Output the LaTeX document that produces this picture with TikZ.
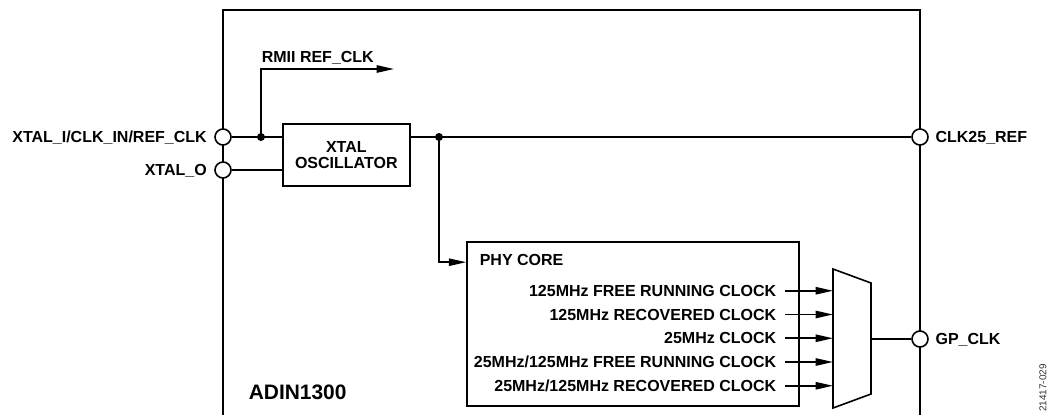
\documentclass[tikz,border=0pt]{standalone}
\usepackage{fontspec}
\setmainfont{Liberation Sans}
\usetikzlibrary{positioning, arrows.meta}

\begin{document}
\begin{tikzpicture}[
  x=0.75pt, y=-0.75pt,
  >={Triangle[length=13pt, width=5.5pt]}, line width=1.2pt,
  font=\fontsize{12}{12}\selectfont\bfseries,
  pin/.style={circle, draw, fill=white, minimum size=12pt, inner sep=0pt},
  blk/.style={draw, inner sep=0pt},
  dot/.style={circle, fill, minimum size=6pt, inner sep=0pt},
  captxt/.style={inner sep=0pt, text height=8.6pt, text depth=0pt},
]
\useasboundingbox (0,0) rectangle (1053,415);
% device outline, open at the bottom
\coordinate (bl) at (223,415);
\coordinate (br) at (920,415);
\draw[line width=1.7pt] (bl) -- (223,10) -- (920,10) -- (br);

% oscillator and junctions
\node[blk, minimum width=95.25pt, minimum height=46.5pt, align=center] (osc) at (346.3,155.2) {XTAL\\OSCILLATOR};
\node[dot] (j1) at (261,137) {};
\node[dot] (j2) at (439,137) {};

% pins
\node[pin, label={[captxt, label distance=5pt]left:XTAL\_I/CLK\_IN/REF\_CLK}] (xin) at (223,137) {};
\node[pin, label={[captxt, label distance=5pt]left:XTAL\_O}] (xout) at (223,170) {};
\node[pin, label={[captxt, label distance=4.5pt]right:CLK25\_REF}] (clk25) at (920,137) {};
\node[pin, label={[captxt, label distance=4.5pt]right:GP\_CLK}] (gpclk) at (920,339) {};

\draw (xin) -- (osc.west |- xin);
\draw (xout) -- (osc.west |- xout);
\draw (osc.east |- clk25) -- (clk25);

% RMII branch
\coordinate (rmii) at (394,69);
\draw[->] (j1.center) |- (rmii);
\node[anchor=base west, inner sep=0pt] (rmiilbl) at (261,62.5) {RMII REF\_CLK};

% PHY core
\node[blk, minimum width=249pt, minimum height=123pt] (phy) at (633,324) {};
\node[anchor=base west, inner sep=0pt] (phylbl) at (479,265) {PHY CORE};
\draw[->] (j2.center) |- ([yshift=-15.75pt]phy.north west);

% clock mux
\coordinate (mxl) at (833,269);
\coordinate (mxout) at (871,339);
\draw (mxl) -- (871,283) -- (871,394) -- (833,408) -- cycle;
\foreach \txt [count=\i] in {125MHz FREE RUNNING CLOCK, 125MHz RECOVERED CLOCK, 25MHz CLOCK,
    25MHz/125MHz FREE RUNNING CLOCK, 25MHz/125MHz RECOVERED CLOCK} {
  \node[captxt, anchor=east] (c\i) at (777,267+23.75*\i) {\txt};
  \draw[->] ([xshift=6pt]c\i.east) -- (c\i.east -| mxl);
}
\draw (mxout) -- (gpclk);

\node[anchor=base west, inner sep=0pt, font=\fontsize{15.7}{18}\selectfont\bfseries] (dev) at (248,399) {ADIN1300};
\node[rotate=90, inner sep=0pt, font=\fontsize{7.5}{9}\selectfont, text=black!80] (figno) at (1043,388) {21417-029};
\end{tikzpicture}
\end{document}
